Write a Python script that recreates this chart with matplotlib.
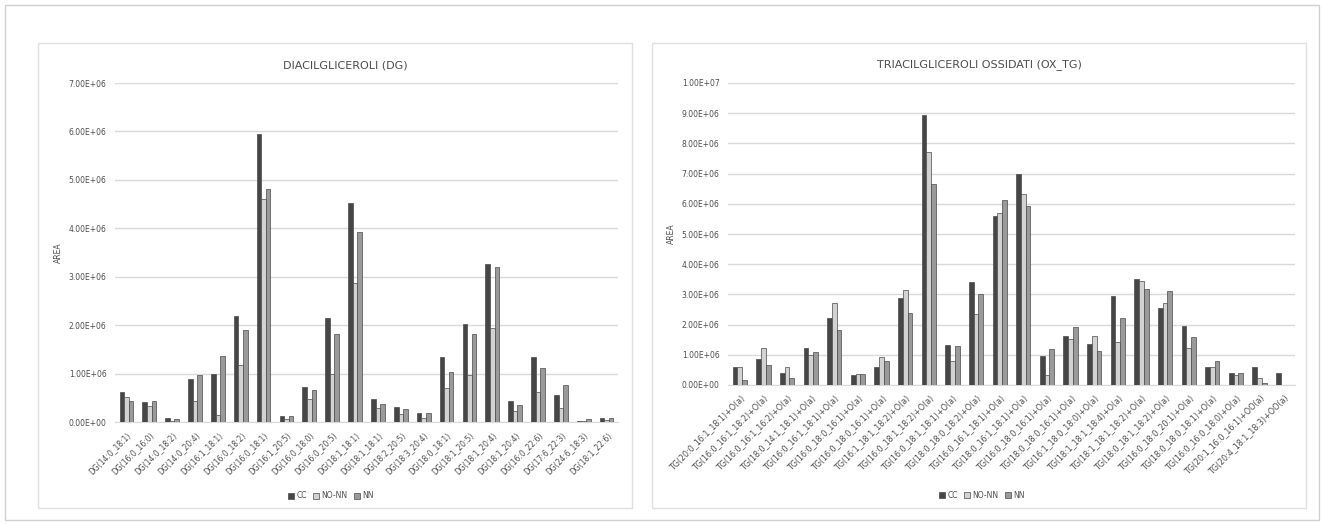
import numpy as np
import matplotlib.pyplot as plt
from matplotlib.patches import Rectangle, Patch
from matplotlib.ticker import FuncFormatter, MultipleLocator

# Diacylglycerols
dg_labels = ['DG(14:0_18:1)', 'DG(16:0_16:0)', 'DG(14:0_18:2)', 'DG(14:0_20:4)', 'DG(16:1_18:1)',
             'DG(16:0_18:2)', 'DG(16:0_18:1)', 'DG(16:1_20:5)', 'DG(16:0_18:0)', 'DG(16:0_20:5)',
             'DG(18:1_18:1)', 'DG(18:1_18:1)', 'DG(18:2_20:5)', 'DG(18:3_20:4)', 'DG(18:0_18:1)',
             'DG(18:1_20:5)', 'DG(18:1_20:4)', 'DG(18:1_20:4)', 'DG(16:0_22:6)', 'DG(17:6_22:3)',
             'DG(24:6_18:3)', 'DG(18:1_22:6)']
dg_cc = [0.61e6, 0.41e6, 0.09e6, 0.89e6, 0.99e6, 2.18e6, 5.95e6, 0.12e6, 0.72e6, 2.15e6, 4.52e6,
         0.48e6, 0.30e6, 0.18e6, 1.34e6, 2.03e6, 3.27e6, 0.44e6, 1.34e6, 0.55e6, 0.03e6, 0.09e6]
dg_nonn = [0.52e6, 0.34e6, 0.03e6, 0.44e6, 0.15e6, 1.17e6, 4.60e6, 0.07e6, 0.47e6, 0.99e6, 2.88e6,
           0.29e6, 0.16e6, 0.08e6, 0.70e6, 0.98e6, 1.94e6, 0.23e6, 0.61e6, 0.29e6, 0.02e6, 0.05e6]
dg_nn = [0.44e6, 0.44e6, 0.07e6, 0.98e6, 1.37e6, 1.91e6, 4.82e6, 0.13e6, 0.67e6, 1.81e6, 3.92e6,
         0.37e6, 0.27e6, 0.18e6, 1.04e6, 1.82e6, 3.20e6, 0.35e6, 1.12e6, 0.76e6, 0.07e6, 0.08e6]

# Oxidised triacylglycerols
tg_labels = ['TG(20:0_16:1_18:1)+O(a)', 'TG(16:0_16:1_18:2)+O(a)', 'TG(16:0_16:1_16:2)+O(a)',
             'TG(18:0_14:1_18:1)+O(a)', 'TG(16:0_16:1_18:1)+O(a)', 'TG(16:0_18:0_16:1)+O(a)',
             'TG(16:0_18:0_16:1)+O(a)', 'TG(16:1_18:1_18:2)+O(a)', 'TG(16:0_18:1_18:2)+O(a)',
             'TG(16:0_18:1_18:1)+O(a)', 'TG(18:0_18:0_18:2)+O(a)', 'TG(16:0_16:1_18:1)+O(a)',
             'TG(18:0_16:1_18:1)+O(a)', 'TG(16:0_18:0_16:1)+O(a)', 'TG(18:0_18:0_16:1)+O(a)',
             'TG(16:1_18:0_18:0)+O(a)', 'TG(18:1_18:1_18:4)+O(a)', 'TG(18:1_18:1_18:2)+O(a)',
             'TG(18:0_18:1_18:2)+O(a)', 'TG(16:0_18:0_20:1)+O(a)', 'TG(18:0_18:0_18:1)+O(a)',
             'TG(16:0_16:0_18:0)+O(a)', 'TG(20:1_16:0_16:1)+OO(a)', 'TG(20:4_18:1_18:3)+OO(a)']
tg_cc = [0.58e6, 0.86e6, 0.41e6, 1.24e6, 2.22e6, 0.33e6, 0.58e6, 2.89e6, 8.95e6, 1.33e6, 3.42e6, 5.58e6,
         6.98e6, 0.97e6, 1.61e6, 1.36e6, 2.94e6, 3.50e6, 2.56e6, 1.94e6, 0.61e6, 0.39e6, 0.61e6, 0.39e6]
tg_nonn = [0.58e6, 1.22e6, 0.58e6, 1.00e6, 2.70e6, 0.36e6, 0.94e6, 3.13e6, 7.72e6, 0.80e6, 2.36e6, 5.70e6,
           6.33e6, 0.33e6, 1.53e6, 1.63e6, 1.44e6, 3.44e6, 2.72e6, 1.22e6, 0.61e6, 0.33e6, 0.22e6, 0.0]
tg_nn = [0.17e6, 0.67e6, 0.24e6, 1.09e6, 1.83e6, 0.37e6, 0.80e6, 2.39e6, 6.67e6, 1.30e6, 3.02e6, 6.13e6,
         5.94e6, 1.19e6, 1.91e6, 1.14e6, 2.22e6, 3.17e6, 3.11e6, 1.59e6, 0.80e6, 0.41e6, 0.05e6, 0.0]

series_names = ['CC', 'NO-NN', 'NN']
colors = ['#464646', '#d2d2d2', '#9a9a9a']
grid_c = '#d9d9d9'
text_c = '#4d4d4d'

W, H = 1324, 525
fig = plt.figure(figsize=(W / 100, H / 100), dpi=100)


def px_axes(x0, y0, x1, y1):
    return fig.add_axes([x0 / W, 1 - y1 / H, (x1 - x0) / W, (y1 - y0) / H])


def px_box(x0, y0, x1, y1, color):
    fig.patches.append(Rectangle((x0 / W, 1 - y1 / H), (x1 - x0) / W, (y1 - y0) / H,
                                 transform=fig.transFigure, fill=False, edgecolor=color,
                                 linewidth=1.0))


# frames
px_box(5, 5, 1319, 520, '#d0d0d0')
px_box(38, 43, 632, 508, '#e0e0e0')
px_box(652, 43, 1306, 508, '#e0e0e0')


def bar_chart(ax, labels, vals, ymax, step, title, title_x, label_size, legend_x, legend_y,
              ylab_pad):
    n = len(labels)
    x = np.arange(n)
    w = 0.2
    for k, (v, c) in enumerate(zip(vals, colors)):
        ax.bar(x + (k - 1) * w, v, width=w, color=c, edgecolor='#4a4a4a', linewidth=0.5,
               zorder=3)
    ax.set_xlim(-0.5, n - 0.5)
    ax.set_ylim(0, ymax)
    ax.yaxis.set_major_locator(MultipleLocator(step))
    ax.yaxis.set_major_formatter(FuncFormatter(lambda v, p: f'{v:.2E}'))
    ax.grid(axis='y', color=grid_c, linewidth=1.0, zorder=0)
    for s in ['top', 'right', 'left']:
        ax.spines[s].set_visible(False)
    ax.spines['bottom'].set_color(grid_c)
    ax.set_xticks(x)
    ax.set_xticklabels(labels, rotation=45, ha='right', rotation_mode='anchor',
                       fontsize=label_size, color=text_c)
    ax.tick_params(axis='both', length=0, pad=6)
    ax.tick_params(axis='y', labelsize=5.5, labelcolor=text_c)
    ax.set_ylabel('AREA', fontsize=5.5, color=text_c, labelpad=ylab_pad)
    fig.text(title_x / W, 1 - 65 / H, title, ha='center', va='center', fontsize=8, color=text_c)
    handles = [Patch(facecolor=c, edgecolor='#4a4a4a', linewidth=0.5) for c in colors]
    fig.legend(handles, series_names, loc='center', ncol=3, frameon=False, fontsize=5.5,
               handlelength=0.8, handleheight=0.8, columnspacing=0.8, handletextpad=0.3,
               labelcolor=text_c,
               bbox_to_anchor=(legend_x / W, 1 - legend_y / H))


ax1 = px_axes(115, 83, 618, 422)
bar_chart(ax1, dg_labels, [dg_cc, dg_nonn, dg_nn], 7e6, 1e6,
          'DIACILGLICEROLI (DG)', 345, 5.5, 331, 496, 4)

ax2 = px_axes(728, 83, 1295, 385)
bar_chart(ax2, tg_labels, [tg_cc, tg_nonn, tg_nn], 1e7, 1e6,
          'TRIACILGLICEROLI OSSIDATI (OX_TG)', 979, 5.8, 982, 495, 4)

fig.savefig('out.png', dpi=100)
